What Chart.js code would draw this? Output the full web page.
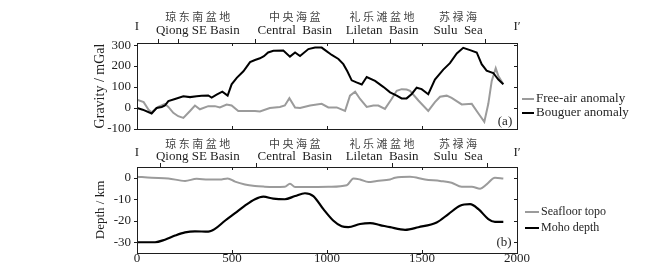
<!DOCTYPE html>
<html>
<head>
<meta charset="utf-8">
<script src="https://cdn.jsdelivr.net/npm/chart.js@4.4.1/dist/chart.umd.min.js"></script>
<style>
  html, body { margin: 0; padding: 0; background: #fff; }
  #wrap { position: relative; width: 669px; height: 278px; overflow: hidden; }
  canvas { position: absolute; left: 0; }
</style>
</head>
<body>
<div id="wrap">
  <canvas id="grav" width="669" height="136" style="top:0"></canvas>
  <canvas id="depth" width="669" height="142" style="top:136px"></canvas>
</div>
<script>
// Profile I-I' : gravity anomalies (a) and seafloor / Moho depth (b)

const regionZh  = ['琼东南盆地', '中央海盆', '礼乐滩盆地', '苏禄海'];
const regionEn  = ['Qiong SE Basin', 'Central  Basin', 'Liletan  Basin', 'Sulu  Sea'];
const regionMid = [320, 830, 1290, 1690];
const marksA = [112, 218, 621, 1138, 1332, 1832];
const marksB = [121, 626, 1342, 1842];

const xTicks  = [0, 500, 1000, 1500, 2000];
const yTicksA = [-100, 0, 100, 200, 300];
const yTicksB = [-30, -20, -10, 0];

// (a) gravity, mGal
const bougDist = [0, 30, 77, 103, 130, 147, 165, 200, 244, 279, 314, 340, 375, 393, 419, 449, 477, 498,
  525, 560, 595, 621, 647, 668, 690, 718, 770, 805, 832, 858, 902, 937, 972, 990, 1025, 1060, 1086,
  1107, 1130, 1155, 1183, 1209, 1253, 1296, 1332, 1367, 1393, 1419, 1446, 1472, 1498, 1533, 1568,
  1612, 1647, 1683, 1717, 1753, 1788, 1814, 1840, 1875, 1902, 1928];
const bougVal = [0, -8, -26, 0, 5, 12, 33, 43, 56, 52, 56, 58, 60, 50, 64, 78, 59, 113,
  144, 175, 219, 229, 237, 247, 265, 273, 274, 245, 265, 248, 281, 288, 288, 276, 253, 234, 209,
  175, 132, 122, 112, 148, 129, 101, 75, 59, 46, 46, 67, 97, 90, 66, 136,
  183, 214, 260, 287, 276, 265, 209, 178, 167, 136, 113];

const freeDist = [0, 35, 61, 77, 112, 147, 165, 191, 217, 244, 279, 305, 331, 375, 410, 436, 472, 498,
  533, 586, 621, 647, 699, 752, 778, 802, 832, 858, 911, 972, 1007, 1051, 1095, 1121, 1148, 1174,
  1209, 1244, 1270, 1305, 1340, 1367, 1393, 1419, 1437, 1481, 1533, 1568, 1595, 1630, 1656, 1709,
  1762, 1797, 1828, 1849, 1867, 1888, 1902, 1928];
const freeVal = [40, 28, -8, -20, 5, 20, 5, -23, -39, -47, -14, 12, -6, 9, 9, 3, 17, 12,
  -14, -14, -14, -16, 0, 5, 12, 47, 2, 0, 12, 20, 3, 3, -14, 59, 78, 43,
  5, 12, 12, -4, 43, 82, 90, 88, 82, 36, -14, 28, 54, 59, 48, 17,
  20, -26, -66, 20, 129, 190, 152, 113];

// (b) depth, km
const topoDist = [0, 77, 165, 253, 314, 375, 436, 477, 516, 568, 621, 665, 717, 778, 805, 832, 911,
  1016, 1104, 1139, 1174, 1218, 1262, 1332, 1358, 1437, 1516, 1595, 1656, 1709, 1762, 1806, 1840,
  1884, 1928];
const topoVal = [0.5, 0, -0.3, -1.5, -0.5, -0.8, -0.8, -0.3, -1.8, -3.1, -3.8, -4.1, -4.3, -4.2, -2.8,
  -4.3, -4.3, -4.2, -3.5, -0.3, -0.8, -2, -1.5, -0.8, 0, 0.5, -0.8, -1.5, -2.3, -4.2, -4.2, -5.1,
  -3.1, 0, -0.3];

const mohoDist = [0, 95, 147, 200, 253, 305, 375, 410, 463, 516, 568, 621, 665, 717, 778, 832, 884,
  928, 981, 1034, 1077, 1112, 1174, 1227, 1279, 1332, 1411, 1481, 1577, 1639, 1700, 1753, 1797,
  1849, 1884, 1928];
const mohoVal = [-30, -30, -28.8, -26.9, -25.4, -24.9, -25.1, -23.8, -20, -16.5, -13, -10, -8.8, -9.7,
  -10, -8.5, -7.2, -8.5, -14.6, -20, -22.6, -23, -21.5, -21.1, -22, -23, -24.2, -23, -20.8, -16.9,
  -13, -12.3, -14.6, -19.2, -20.5, -20.5];

const SERIF = '"Liberation Serif", "Times New Roman", serif';
const CJK = '"Noto Sans CJK SC", sans-serif';
const GREY = '#9b9b9b';
const INK = '#1e1e1e';

const pts = (xs, ys) => xs.map((x, i) => ({ x, y: ys[i] }));

function spaced(ctx, str, cx, y, gap) {
    const chars = [...str];
    const ws = chars.map(c => ctx.measureText(c).width);
    let x = cx - (ws.reduce((a, b) => a + b, 0) + gap * (chars.length - 1)) / 2;
    ctx.textAlign = 'left';
    chars.forEach((c, i) => { ctx.fillText(c, x, y); x += ws[i] + gap; });
}

// box, mirrored ticks, region captions, legend
const framePlugin = {
    id: 'frame',
    afterDraw(chart, args, o) {
        const { ctx, chartArea: { left, right, top, bottom } } = chart;
        const xs = chart.scales.x, ys = chart.scales.y;
        ctx.save();
        ctx.strokeStyle = INK;
        ctx.lineWidth = 1;
        ctx.strokeRect(left + 0.5, top + 0.5, right - left, bottom - top);
        ctx.beginPath();
        ys.ticks.forEach(t => {
            const y = Math.round(ys.getPixelForValue(t.value)) + 0.5;
            ctx.moveTo(left - 3, y); ctx.lineTo(left, y);
            ctx.moveTo(right, y); ctx.lineTo(right - 3, y);
        });
        xs.ticks.forEach(t => {
            if (t.value <= xs.min || t.value >= xs.max) return;
            const x = Math.round(xs.getPixelForValue(t.value)) + 0.5;
            ctx.moveTo(x, bottom); ctx.lineTo(x, bottom - 3);
            ctx.moveTo(x, top); ctx.lineTo(x, top + 3);
        });
        o.marks.forEach(v => {
            const x = Math.round(xs.getPixelForValue(v)) + 0.5;
            ctx.moveTo(x, top); ctx.lineTo(x, top - 4);
        });
        ctx.stroke();

        // region captions
        ctx.textBaseline = 'middle';
        ctx.fillStyle = '#444';
        ctx.font = '11px ' + CJK;
        regionZh.forEach((s, i) => spaced(ctx, s, xs.getPixelForValue(regionMid[i]), o.zhY, 2.5));
        ctx.fillStyle = INK;
        ctx.font = '13px ' + SERIF;
        ctx.textAlign = 'center';
        regionEn.forEach((s, i) => ctx.fillText(s, xs.getPixelForValue(regionMid[i]), o.enY));
        ctx.fillText('I', left, o.iY);
        ctx.fillText('I\u2032', right, o.iY);

        // legend
        ctx.font = o.legendFont + 'px ' + SERIF;
        ctx.textAlign = 'left';
        chart.data.datasets.forEach((d, i) => {
            const y = o.legendY[i];
            ctx.strokeStyle = d.borderColor;
            ctx.lineWidth = 2;
            ctx.beginPath();
            ctx.moveTo(o.legendX, y); ctx.lineTo(o.legendX + o.legendLen, y);
            ctx.stroke();
            ctx.fillText(d.label, o.legendX + o.legendLen + 2, y);
        });

        // panel tag
        ctx.font = '13px ' + SERIF;
        ctx.textAlign = 'center';
        ctx.fillText(o.tag, o.tagX, o.tagY);
        ctx.restore();
    }
};

function fixPad(s) { s.paddingLeft = 0; s.paddingRight = 0; s.paddingTop = 0; s.paddingBottom = 0; }

function makeChart(id, datasets, cfg) {
    return new Chart(document.getElementById(id), {
        type: 'line',
        data: { datasets },
        options: {
            responsive: false,
            animation: false,
            layout: { padding: cfg.padding },
            elements: { point: { radius: 0 } },
            scales: {
                x: {
                    type: 'linear', min: 0, max: 2000,
                    afterBuildTicks: s => { s.ticks = xTicks.map(v => ({ value: v })); },
                    afterFit: s => { s.height = cfg.xHeight; fixPad(s); },
                    grid: { display: false, drawTicks: false },
                    border: { display: false },
                    ticks: { display: cfg.xLabels, padding: -2, color: INK, font: { family: SERIF, size: 13 },
                             maxRotation: 0, callback: v => String(v) }
                },
                y: {
                    min: cfg.yMin, max: cfg.yMax,
                    afterBuildTicks: s => { s.ticks = cfg.yTicks.map(v => ({ value: v })); },
                    afterFit: s => { s.width = cfg.yWidth; fixPad(s); },
                    grid: { display: false, drawTicks: false },
                    border: { display: false },
                    ticks: { padding: 6, color: INK, font: { family: SERIF, size: 13 }, callback: v => String(v) },
                    title: { display: true, text: cfg.yTitle, color: INK, padding: 0,
                             font: { family: SERIF, size: cfg.yTitleSize } }
                }
            },
            plugins: { legend: { display: false }, tooltip: { enabled: false }, frame: cfg.frame }
        },
        plugins: [framePlugin]
    });
}

makeChart('grav', [
    { label: 'Bouguer anomaly', data: pts(bougDist, bougVal), borderColor: '#000', borderWidth: 2, tension: 0 },
    { label: 'Free-air anomaly', data: pts(freeDist, freeVal), borderColor: GREY, borderWidth: 2, tension: 0 }
], {
    padding: { left: 92, right: 152, top: 43, bottom: 7 },
    xHeight: 0, xLabels: false, yWidth: 45,
    yMin: -100, yMax: 310, yTicks: yTicksA,
    yTitle: 'Gravity / mGal', yTitleSize: 14,
    frame: { marks: marksA, zhY: 17, enY: 31, iY: 27,
             legendX: 522, legendLen: 12, legendY: [113, 99], legendFont: 13,
             tag: '(a)', tagX: 505, tagY: 122 }
});

makeChart('depth', [
    { label: 'Moho depth', data: pts(mohoDist, mohoVal), borderColor: '#000', borderWidth: 2.2, cubicInterpolationMode: 'monotone' },
    { label: 'Seafloor topo', data: pts(topoDist, topoVal), borderColor: GREY, borderWidth: 2, cubicInterpolationMode: 'monotone' }
], {
    padding: { left: 93, right: 152, top: 31, bottom: 0 },
    xHeight: 25, xLabels: true, yWidth: 44,
    yMin: -35, yMax: 5, yTicks: yTicksB,
    yTitle: 'Depth / km', yTitleSize: 13,
    frame: { marks: marksB, zhY: 8, enY: 21, iY: 17,
             legendX: 525, legendLen: 14, legendY: [92, 76], legendFont: 12,
             tag: '(b)', tagX: 504, tagY: 107 }
});
</script>
</body>
</html>
